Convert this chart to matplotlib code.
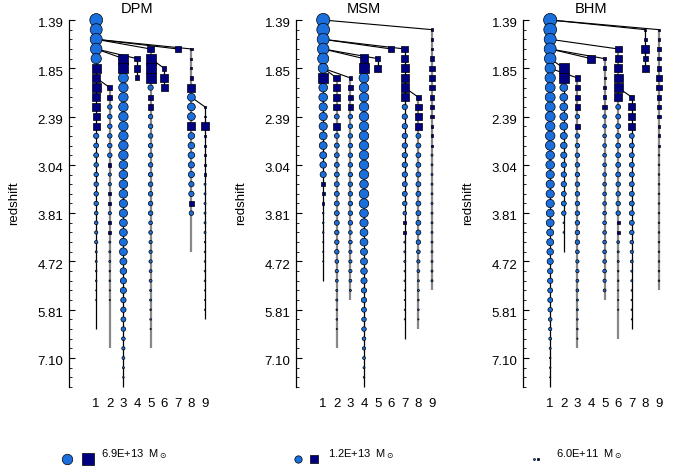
import numpy as np
import matplotlib.pyplot as plt
from matplotlib.ticker import MultipleLocator
from matplotlib.transforms import ScaledTranslation

plt.rcParams['font.family'] = ['Liberation Sans', 'DejaVu Sans']

# snapshot 0 is the latest one (top of the plot)
z_labels = ['1.39', '1.85', '2.39', '3.04', '3.81', '4.72', '5.81', '7.10']
z_snaps = [0, 5, 10, 15, 20, 25, 30, 35]
n_snap = 38
columns = [1, 2, 3, 4, 5, 6, 7, 8, 9]
models = ['DPM', 'MSM', 'BHM']
legend_mass = [6.9e13, 1.2e13, 6.0e11]

# branch: (column, first snapshot, parent column, log10(M/Msun) per snapshot, satellite snapshots)
dpm = [
    (1, 0, None,
     [14.4, 14.2, 14.2, 14.1, 13.8, 13.4, 13.2, 13.4, 13.2, 13.2, 12.9, 13.0, 12.6, 12.5, 12.5,
      12.4, 12.4, 12.4, 12.4, 12.4, 12.2, 12.2, 12.1, 12.1, 11.8, 11.8, 11.7, 11.7, 11.6, 11.6,
      11.3, 11.3, 11.3],
     range(5, 12)),
    (2, 7, 1,
     [12.6, 12.6, 12.4, 12.4, 12.4, 12.4, 12.4, 12.4, 12.1, 12.1, 12.1, 12.0, 12.0, 12.1, 12.0,
      12.0, 11.8, 11.8, 11.8, 11.7, 11.7, 11.6, 11.6, 11.4, 11.3, 11.3, 11.3, 11.3],
     [7, 8, 15, 18, 19, 21, 22]),
    (3, 4, 1,
     [13.7, 13.7, 13.7, 13.6, 13.6, 13.6, 13.6, 13.6, 13.6, 13.6, 13.6, 13.4, 13.4, 13.4, 13.4,
      13.3, 13.3, 13.2, 13.2, 13.2, 13.2, 13.0, 12.9, 12.8, 12.8, 12.6, 12.6, 12.5, 12.4, 12.2,
      12.1, 12.0, 11.8, 11.7, 11.3],
     [4, 5]),
    (4, 4, 1, [12.6, 12.9, 12.5], [4, 5, 6]),
    (5, 3, 1,
     [12.9, 13.7, 13.7, 13.7, 12.6, 12.4, 12.6, 12.4, 12.4, 12.4, 12.4, 12.4, 12.4, 12.4, 12.4,
      12.4, 12.4, 12.4, 12.2, 12.2, 12.1, 12.1, 12.1, 12.0, 12.0, 11.8, 11.8, 11.7, 11.7, 11.6,
      11.3, 11.3],
     [3, 4, 5, 6, 8, 9]),
    (6, 5, 5, [12.4, 13.2, 12.9], [5, 6, 7]),
    (7, 3, 1, [12.9], [3]),
    (8, 3, 1,
     [12.0, 11.8, 11.8, 12.1, 13.2, 13.2, 13.2, 13.2, 13.2, 12.9, 12.9, 12.9, 12.8, 12.8, 12.6,
      12.6, 12.6, 12.4, 11.3, 11.3, 11.3, 11.3],
     [3, 4, 5, 6, 7, 11, 19]),
    (9, 9, 8,
     [11.8, 11.7, 13.3, 11.8, 11.8, 11.8, 11.8, 11.8, 11.8, 11.8, 11.8, 11.8, 11.8, 11.8, 11.7,
      11.7, 11.7, 11.7, 11.7, 11.6, 11.6, 11.6, 11.3],
     range(9, 17)),
]

msm = [
    (1, 0, None,
     [14.5, 14.4, 14.2, 14.1, 14.0, 13.7, 13.8, 13.4, 13.4, 13.3, 13.3, 13.3, 13.2, 13.2, 13.0,
      12.9, 12.8, 12.2, 12.0, 11.8, 11.7, 11.7, 11.7, 11.6, 11.6, 11.6, 11.3, 11.3],
     [6, 17, 18, 19]),
    (2, 6, 1,
     [12.9, 12.9, 12.9, 12.9, 12.5, 12.9, 12.5, 12.5, 12.5, 12.5, 12.5, 12.5, 12.5, 12.5, 12.5,
      12.5, 12.4, 12.4, 12.4, 12.2, 12.1, 12.0, 11.8, 11.8, 11.7, 11.7, 11.6, 11.3, 11.3],
     [6, 7, 8, 9, 11]),
    (3, 6, 1,
     [12.1, 12.4, 12.4, 12.6, 12.4, 12.4, 12.4, 12.4, 12.4, 12.4, 12.4, 12.4, 12.4, 12.4, 12.4,
      12.4, 12.2, 12.2, 12.1, 12.1, 12.1, 12.0, 11.8, 11.3],
     [6, 7, 8, 9]),
    (4, 4, 1,
     [13.4, 13.7, 13.7, 13.6, 13.6, 13.6, 13.6, 13.6, 13.6, 13.6, 13.6, 13.6, 13.6, 13.4, 13.6,
      13.6, 13.4, 13.3, 13.2, 13.2, 13.0, 13.0, 12.9, 12.8, 12.6, 12.6, 12.5, 12.4, 12.4, 12.2,
      12.1, 12.0, 11.8, 11.7, 11.3],
     [4, 5]),
    (5, 4, 1, [12.6, 12.9], [4, 5]),
    (6, 3, 1, [12.9], [3]),
    (7, 3, 1,
     [12.9, 12.9, 13.2, 13.2, 13.3, 13.2, 12.6, 12.6, 12.6, 12.6, 12.6, 12.6, 12.6, 12.6, 12.5,
      12.5, 12.4, 12.2, 12.0, 12.0, 11.8, 11.8, 11.8, 11.7, 11.7, 11.6, 11.6, 11.6, 11.6, 11.3,
      11.3],
     [3, 4, 5, 6, 7, 8, 21, 22]),
    (8, 8, 7,
     [12.6, 12.9, 12.9, 12.9, 12.5, 12.5, 12.5, 12.5, 12.5, 12.5, 12.5, 12.5, 12.5, 12.5, 12.5,
      12.4, 12.2, 12.1, 12.0, 11.8, 11.8, 11.7, 11.7, 11.6, 11.3],
     [8, 9, 10, 11]),
    (9, 1, 1,
     [12.0, 12.0, 12.0, 12.4, 12.6, 12.6, 12.6, 12.4, 12.1, 12.1, 12.0, 12.0, 11.8, 11.8, 11.8,
      11.8, 11.8, 11.8, 11.8, 11.8, 11.8, 11.8, 11.8, 11.8, 11.8, 11.8, 11.8, 11.3],
     range(1, 14)),
]

bhm = [
    (1, 0, None,
     [14.5, 14.4, 14.2, 14.2, 14.1, 13.8, 13.8, 13.7, 13.7, 13.7, 13.7, 13.6, 13.6, 13.6, 13.4,
      13.4, 13.3, 13.3, 13.3, 13.3, 13.2, 13.2, 13.0, 13.0, 12.9, 12.8, 12.6, 12.6, 12.5, 12.5,
      12.4, 12.2, 12.1, 12.0, 11.8, 11.7, 11.7, 11.6, 11.3],
     []),
    (2, 5, 1,
     [13.7, 13.7, 13.2, 13.2, 13.2, 13.2, 13.2, 13.0, 12.9, 12.8, 12.6, 12.6, 12.6, 12.5, 12.5,
      12.4, 11.7, 11.7, 11.3, 11.3],
     [5, 6]),
    (3, 6, 1,
     [12.6, 12.6, 12.6, 12.6, 12.4, 12.6, 12.4, 12.4, 12.4, 12.4, 12.4, 12.4, 12.4, 12.4, 12.4,
      12.4, 12.4, 12.4, 12.2, 12.1, 12.1, 12.0, 12.0, 11.8, 11.8, 11.7, 11.7, 11.6, 11.3],
     [6, 7, 8, 9, 11]),
    (4, 4, 1, [13.4], [4]),
    (5, 4, 1,
     [12.0, 12.2, 11.8, 12.2, 12.2, 12.4, 12.2, 12.2, 12.2, 12.2, 12.2, 12.2, 12.2, 12.2, 12.2,
      12.2, 12.2, 12.2, 12.2, 12.2, 12.2, 12.2, 12.2, 12.1, 12.0, 11.3],
     range(4, 10)),
    (6, 3, 1,
     [12.9, 13.0, 13.2, 13.4, 13.4, 13.2, 12.5, 12.5, 12.5, 12.5, 12.5, 12.5, 12.5, 12.5, 12.4,
      12.4, 12.4, 12.4, 12.0, 12.0, 12.0, 11.8, 11.8, 11.7, 11.7, 11.6, 11.6, 11.6, 11.3, 11.3,
      11.3],
     [3, 4, 5, 6, 7, 8, 21, 22]),
    (7, 8, 6,
     [12.6, 13.0, 12.9, 12.9, 12.5, 12.5, 12.5, 12.5, 12.5, 12.5, 12.5, 12.5, 12.5, 12.5, 12.4,
      12.2, 12.1, 12.0, 11.8, 11.8, 11.7, 11.7, 11.7, 11.6, 11.3],
     [8, 9, 10, 11]),
    (8, 1, 1, [11.8, 12.1, 13.2, 12.6, 12.9], [1, 2, 3, 4, 5]),
    (9, 1, 1,
     [11.8, 12.0, 12.1, 12.2, 12.4, 12.6, 12.6, 12.4, 12.1, 12.1, 12.0, 12.0, 11.8, 11.7, 11.7,
      11.7, 11.7, 11.7, 11.7, 11.7, 11.7, 11.7, 11.7, 11.7, 11.7, 11.7, 11.7, 11.3],
     range(1, 14)),
]

trees = {'DPM': dpm, 'MSM': msm, 'BHM': bhm}
# branches whose trunk line is drawn in grey
grey_trunks = {'DPM': [2, 5, 8], 'MSM': [2, 3, 8, 9], 'BHM': [3, 5, 6, 9]}

blue = '#1a6fdc'
navy = '#000080'


def marker_pt(logm):
    # marker diameter in points, linear in log mass
    d_px = 4.13 * (np.asarray(logm, dtype=float) - 11.3)
    return np.clip(d_px, 0, None) * 0.72


fig = plt.figure(figsize=(6.79, 4.73), dpi=100)
lefts = [69, 296, 523]

for name, left in zip(models, lefts):
    ax = fig.add_axes([left / 679, 86 / 473, 136 / 679, 367 / 473])
    branches = trees[name]

    for col, top, parent, logm, sats in branches:
        snaps = np.arange(top, top + len(logm))
        grey = col in grey_trunks[name]
        if len(snaps) > 1:
            ax.plot([col, col], [snaps[0], snaps[-1]], color='#888888' if grey else 'black',
                    lw=1.6 if grey else 0.9, zorder=1, solid_capstyle='butt', clip_on=False)
        if parent is not None:
            ax.plot([parent, col], [top - 1, top], color='black', lw=0.8, zorder=2,
                    clip_on=False)

    for col, top, parent, logm, sats in branches:
        snaps = np.arange(top, top + len(logm))
        size = marker_pt(logm)
        is_sat = np.isin(snaps, list(sats))
        show = size > 0.45
        for mask, mk, fc in [(~is_sat & show, 'o', blue), (is_sat & show, 's', navy)]:
            if mask.any():
                ax.scatter(np.full(mask.sum(), col), snaps[mask], s=size[mask] ** 2,
                           marker=mk, facecolor=fc, edgecolor='black', linewidths=0.5,
                           zorder=3, clip_on=False)

    ax.set_xlim(-1, 9)
    ax.set_ylim(n_snap, 0)
    for side in ['top', 'right', 'bottom']:
        ax.spines[side].set_visible(False)
    ax.spines['left'].set_linewidth(0.9)
    ax.set_yticks(z_snaps, z_labels, fontsize=9.5)
    ax.yaxis.set_minor_locator(MultipleLocator(1))
    ax.tick_params(axis='y', which='major', direction='in', length=4, width=0.8, pad=4)
    ax.tick_params(axis='y', which='minor', direction='in', length=2.2, width=0.6)
    for lab in ax.get_yticklabels():
        lab.set_transform(lab.get_transform() + ScaledTranslation(0, -2 / 72, fig.dpi_scale_trans))
    ax.set_xticks(columns, [str(c) for c in columns], fontsize=9.5)
    ax.tick_params(axis='x', length=0, pad=8)
    ax.set_title(name, fontsize=10.5, pad=5)
    ax.set_ylabel('redshift', fontsize=9.5)
    ax.yaxis.set_label_coords(-0.36, 0.5)

# mass key along the bottom
lax = fig.add_axes([0, 0, 1, 1])
lax.set_xlim(0, 679)
lax.set_ylim(473, 0)
lax.axis('off')
key_x = [(67, 88, 101), (298, 314, 328), (534, 538, 556)]
for m, (xc, xs, xt) in zip(legend_mass, key_x):
    d = marker_pt(np.log10(m))
    lax.scatter([xc], [459], s=d ** 2, marker='o', facecolor=blue, edgecolor='black',
                linewidths=0.5, clip_on=False)
    lax.scatter([xs], [459], s=(d * 1.08) ** 2, marker='s', facecolor=navy, edgecolor='black',
                linewidths=0.5, clip_on=False)
    lax.text(xt, 454, f'{m:.1E}  M$_\\odot$', fontsize=8, va='center', ha='left')

fig.savefig('out.png', dpi=100)
